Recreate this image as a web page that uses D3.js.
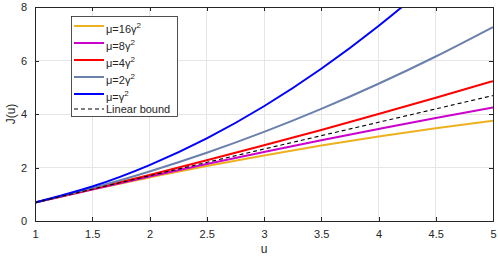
<!DOCTYPE html>
<html><head><meta charset="utf-8">
<script src="https://cdn.jsdelivr.net/npm/d3@7"></script>
<style>body{margin:0;background:#fff}svg{display:block}text{font-family:"Liberation Sans",Arial,sans-serif}</style>
</head><body>
<svg id="c" width="498" height="260"></svg>
<script>
const uValues = [1, 1.5, 2, 2.5, 3, 3.5, 4, 4.5, 5];
const seriesNames = ["μ=16γ²", "μ=8γ²", "μ=4γ²", "μ=2γ²", "μ=γ²", "Linear bound"];
const mu16 = [0.69, 1.18, 1.63, 2.06, 2.45, 2.82, 3.16, 3.47, 3.75];
const mu8  = [0.69, 1.18, 1.66, 2.13, 2.58, 3.02, 3.44, 3.85, 4.24];
const mu4  = [0.69, 1.20, 1.72, 2.27, 2.83, 3.40, 4.00, 4.61, 5.23];
const mu2  = [0.69, 1.23, 1.85, 2.55, 3.33, 4.19, 5.13, 6.15, 7.25];
const mu1  = [0.69, 1.29, 2.09, 3.09, 4.29, 5.69, 7.29, 9.09, 11.09];
const linearBound = [0.69, 1.19, 1.69, 2.19, 2.69, 3.19, 3.69, 4.19, 4.69];
const xTicks = [1, 1.5, 2, 2.5, 3, 3.5, 4, 4.5, 5];
const yTicks = [0, 2, 4, 6, 8];

const colors = ["#EDB120", "#CC00CC", "#FF0000", "#6B80AC", "#0000FF", "#000000"];
const allSeries = [mu16, mu8, mu4, mu2, mu1, linearBound];

const L = 35, R = 493, T = 7, B = 221;
const svg = d3.select("#c");
const x = d3.scaleLinear().domain([1, 5]).range([L, R]);
const y = d3.scaleLinear().domain([0, 8]).range([B, T]);
const axisColor = "#262626";

// grid
svg.append("g").selectAll("line").data(xTicks).join("line")
  .attr("x1", d => x(d)).attr("x2", d => x(d)).attr("y1", T).attr("y2", B)
  .attr("stroke", "#e6e6e6").attr("stroke-width", 1).attr("shape-rendering", "crispEdges");
svg.append("g").selectAll("line").data(yTicks).join("line")
  .attr("y1", d => y(d)).attr("y2", d => y(d)).attr("x1", L).attr("x2", R)
  .attr("stroke", "#e6e6e6").attr("stroke-width", 1).attr("shape-rendering", "crispEdges");

svg.append("defs").append("clipPath").attr("id", "clip")
  .append("rect").attr("x", L).attr("y", T).attr("width", R - L).attr("height", B - T);

const line = d3.line().x((d, i) => x(uValues[i])).y(d => y(d)).curve(d3.curveNatural);
const g = svg.append("g").attr("clip-path", "url(#clip)");
allSeries.forEach((s, k) => {
  g.append("path").attr("d", line(s)).attr("fill", "none")
    .attr("stroke", colors[k])
    .attr("stroke-width", k === 5 ? 1.1 : 2)
    .attr("stroke-dasharray", k === 5 ? "4,3" : null);
});

// axes
const fmt = d => String(d);
const ax = d3.axisBottom(x).tickValues(xTicks).tickFormat(fmt).tickSizeInner(-4).tickSizeOuter(0).tickPadding(9);
const gx = svg.append("g").attr("transform", `translate(0,${B})`).call(ax);
const axT = d3.axisTop(x).tickValues(xTicks).tickFormat("").tickSizeInner(-4).tickSizeOuter(0);
const gxt = svg.append("g").attr("transform", `translate(0,${T})`).call(axT);
const ay = d3.axisLeft(y).tickValues(yTicks).tickFormat(fmt).tickSizeInner(-4).tickSizeOuter(0).tickPadding(8);
const gy = svg.append("g").attr("transform", `translate(${L},0)`).call(ay);
const ayR = d3.axisRight(y).tickValues(yTicks).tickFormat("").tickSizeInner(-4).tickSizeOuter(0);
const gyr = svg.append("g").attr("transform", `translate(${R},0)`).call(ayR);
[gx, gxt, gy, gyr].forEach(a => {
  a.selectAll("path,line").attr("stroke", axisColor).attr("shape-rendering", "crispEdges");
  a.selectAll("text").attr("fill", axisColor).attr("font-size", 11).attr("font-family", "Liberation Sans, Arial, sans-serif");
});

svg.append("text").attr("x", (L + R) / 2).attr("y", 253).attr("text-anchor", "middle")
  .attr("font-size", 12).attr("fill", axisColor).text("u");
svg.append("text").attr("transform", `translate(15,${(T + B) / 2}) rotate(-90)`).attr("text-anchor", "middle")
  .attr("font-size", 12).attr("fill", axisColor).text("J(u)");

// legend
const lg = svg.append("g");
lg.append("rect").attr("x", 71.5).attr("y", 16.5).attr("width", 106).attr("height", 100)
  .attr("fill", "#fff").attr("stroke", axisColor).attr("stroke-width", 0.8);
const rowY = [26, 43, 60, 77, 94, 109];
seriesNames.forEach((name, k) => {
  lg.append("line").attr("x1", 74).attr("x2", 104).attr("y1", rowY[k]).attr("y2", rowY[k])
    .attr("stroke", colors[k]).attr("stroke-width", k === 5 ? 1.1 : 2)
    .attr("stroke-dasharray", k === 5 ? "4,3" : null);
  const t = lg.append("text").attr("x", 106).attr("y", rowY[k] + (k === 5 ? 4 : 7))
    .attr("font-size", 11).attr("fill", axisColor);
  if (k < 5) {
    const m = name.replace("²", "");
    t.append("tspan").text(m);
    t.append("tspan").attr("dy", -5).attr("font-size", 8).text("2");
  } else {
    t.text(name);
  }
});
</script>
</body></html>
